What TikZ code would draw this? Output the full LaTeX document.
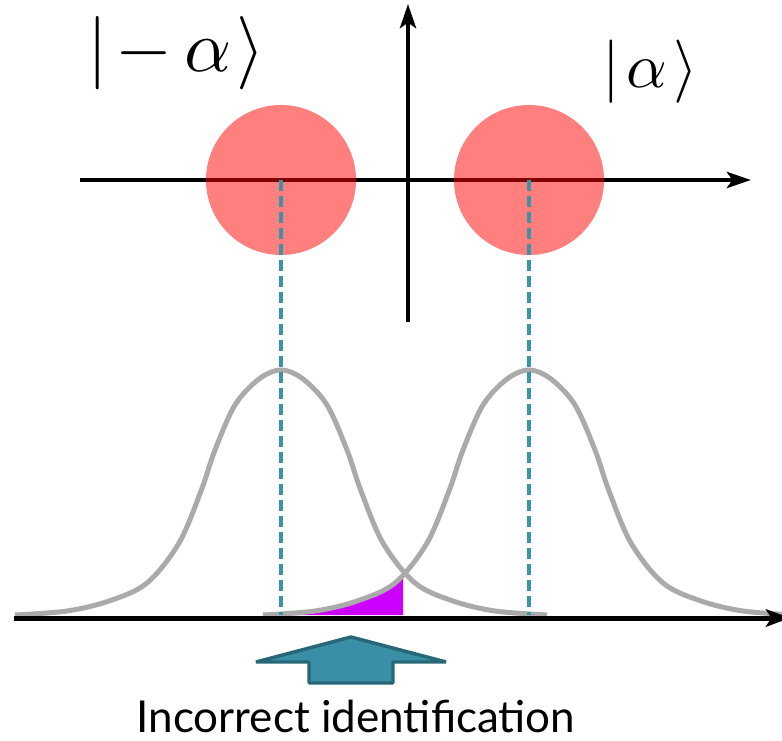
\documentclass[tikz,border=0pt]{standalone}
\usepackage{fontspec}
\newfontfamily\labelfont{Lato}
\usetikzlibrary{arrows.meta}
\definecolor{curvegray}{HTML}{AAAAAA}
\definecolor{dashteal}{HTML}{3A93A8}
\definecolor{arrowfill}{HTML}{3A8FA6}
\definecolor{arrowedge}{HTML}{276878}
\definecolor{errpurple}{HTML}{CC00FF}
\tikzset{
  axisline/.style={line width=3.2pt, -{Stealth[length=18pt,width=12pt,inset=4pt]}},
  bottomaxis/.style={line width=3.75pt, -{Stealth[length=18pt,width=13pt,inset=4pt]}},
  statedisk/.style={circle, fill=red, fill opacity=0.5, draw=none, minimum size=112.5pt, inner sep=0pt},
  projline/.style={dashteal, line width=3pt, dash pattern=on 8.5pt off 3.5pt},
  distcurve/.style={curvegray, line width=3.75pt},
  blockarrow/.style={fill=arrowfill, draw=arrowedge, line width=2.6pt, line join=bevel},
  kettext/.style={inner sep=0pt},
  captiontext/.style={inner sep=0pt, font=\labelfont\fontsize{33}{40}\selectfont}
}
\def\gausspts{(-266,615) (-214,611) (-172,601) (-134,583) (-102,543) (-80,491) (-66,450) (-46,405) (-22,379) (0,370) (22,379) (46,405) (66,450) (80,491) (102,543) (134,583) (172,601) (214,611) (266,615)}
\begin{document}
\begin{tikzpicture}[x=0.75pt,y=-0.75pt]
\useasboundingbox (0,0) rectangle (782,741);
% top axes
\coordinate (hx0) at (80,180);
\coordinate (hx1) at (751,180);
\coordinate (vy0) at (408,322);
\coordinate (vy1) at (408,4);
\draw[axisline] (hx0) -- (hx1);
\draw[axisline] (vy0) -- (vy1);
% state disks
\node[statedisk] (ldisk) at (281,180) {};
\node[statedisk] (rdisk) at (529,180) {};
% labels
\node[kettext] (lket) at (176,53) {\scalebox{5.5}{$|\mkern2mu{-}\mkern3mu\alpha\mkern1mu\rangle$}};
\node[kettext] (rket) at (650,72) {\scalebox{4.75}{$|\mkern2mu\alpha\mkern1.5mu\rangle$}};
% error region
\begin{scope}
  \clip (250,500) rectangle (403,625);
  \fill[errpurple, shift={(529,0)}] plot[smooth, tension=0.55] coordinates {\gausspts} -- cycle;
\end{scope}
% distributions
\draw[distcurve, shift={(281,0)}] plot[smooth, tension=0.55] coordinates {\gausspts};
\draw[distcurve, shift={(529,0)}] plot[smooth, tension=0.55] coordinates {\gausspts};
% projections
\coordinate (lfoot) at (281,615);
\coordinate (rfoot) at (529,615);
\draw[projline] (ldisk.center) -- (lfoot);
\draw[projline] (rdisk.center) -- (rfoot);
% bottom axis
\coordinate (bx0) at (14,618);
\coordinate (bx1) at (790,618);
\draw[bottomaxis] (bx0) -- (bx1);
% block arrow
\draw[blockarrow] (351,637) -- (446,662) -- (393,662) -- (393,683) -- (309,683) -- (309,662) -- (256,662) -- cycle;
\node[captiontext, anchor=base] (caption) at (356,732) {Incorrect identification};
\end{tikzpicture}
\end{document}
